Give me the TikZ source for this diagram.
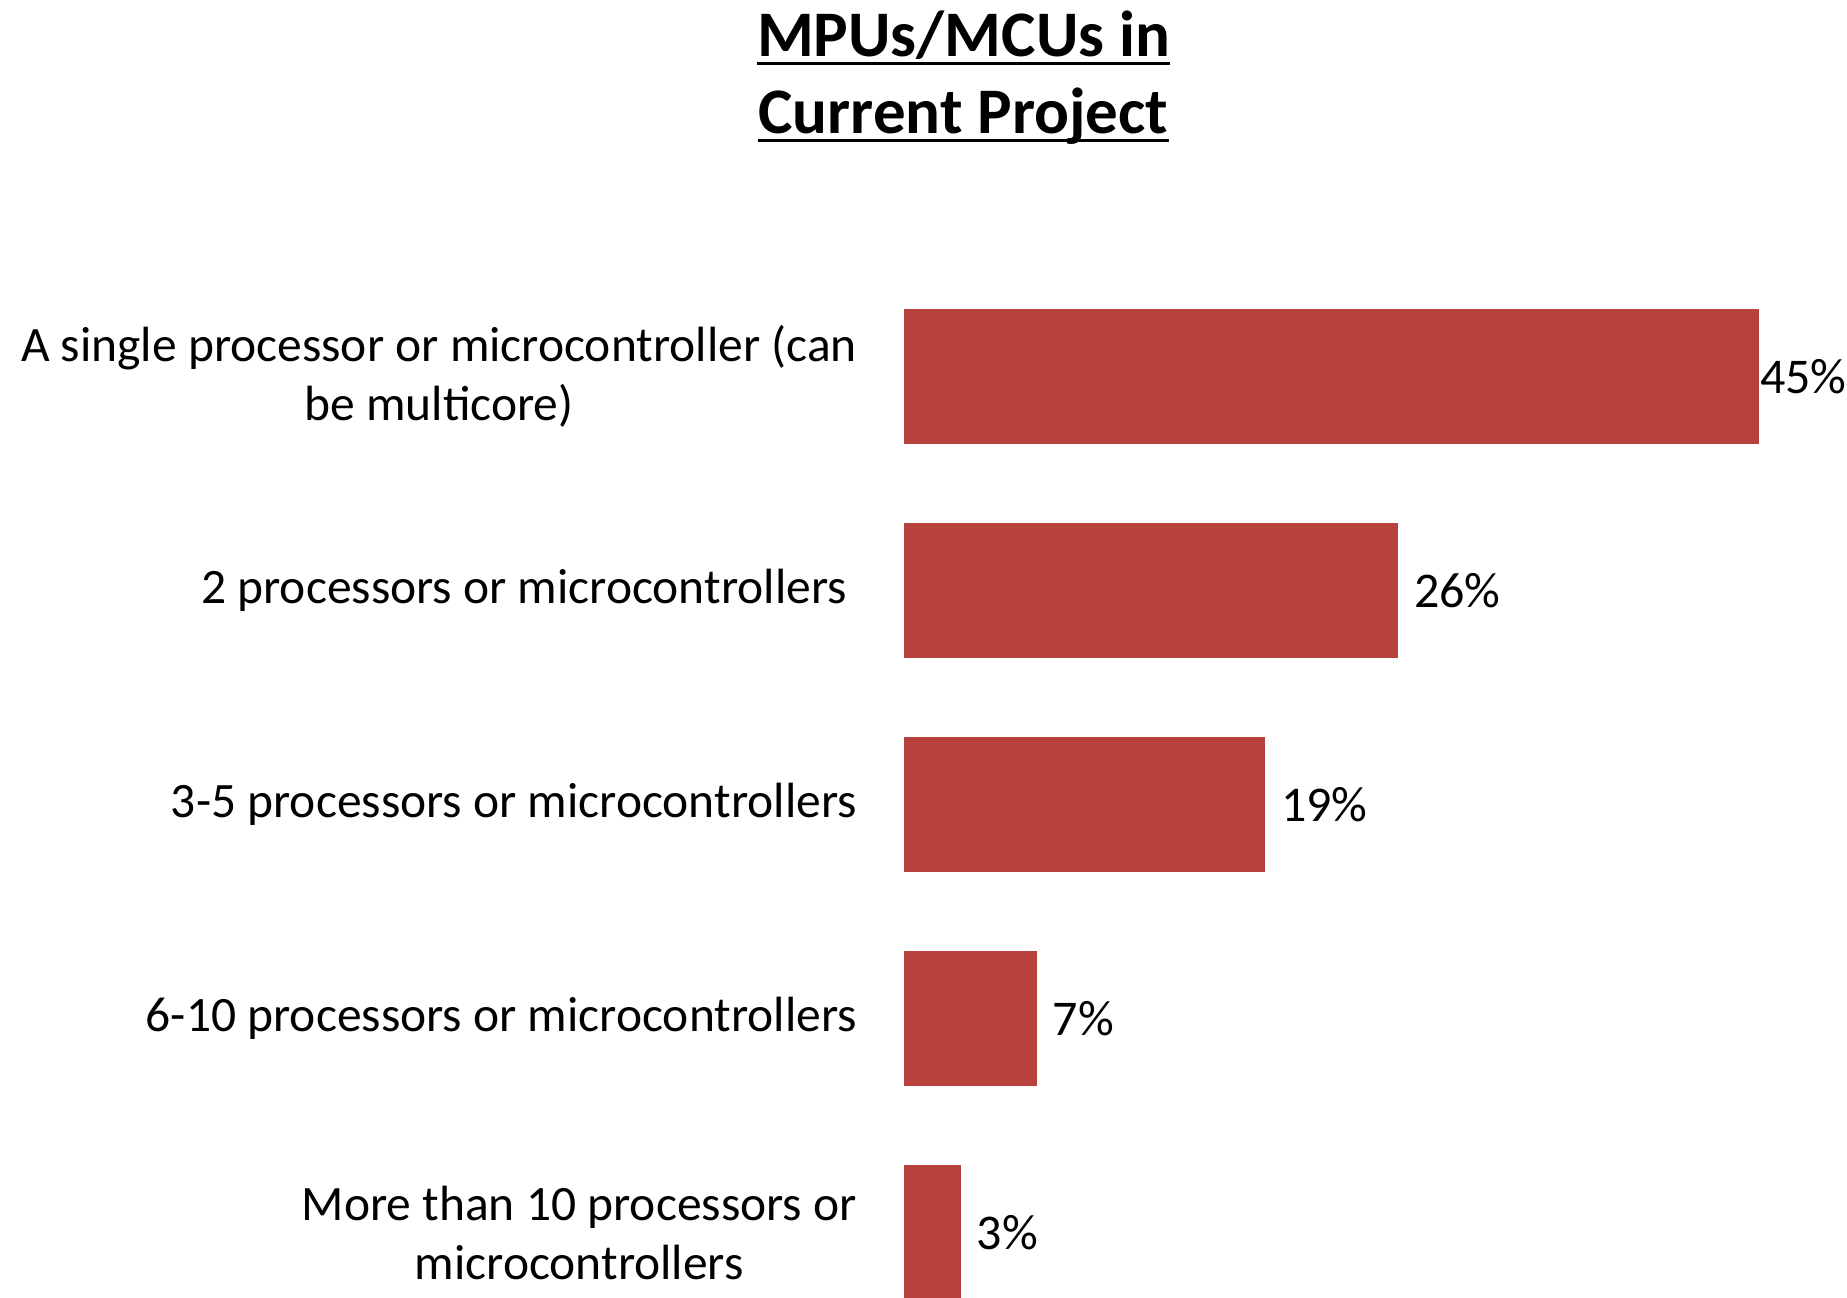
\documentclass[tikz,border=0pt]{standalone}
\usepackage{fontspec}
\setmainfont{Carlito}
\definecolor{barred}{RGB}{183,65,61}
\tikzset{
  bar/.style={fill=barred, draw=none},
  catlabel/.style={anchor=east, align=center, inner sep=0pt,
    font=\fontsize{49.5}{59}\selectfont},
  pctlabel/.style={anchor=west, inner sep=0pt,
    font=\fontsize{50}{58}\selectfont},
  titleline/.style={anchor=base, inner sep=0pt,
    font=\bfseries\fontsize{65}{76}\selectfont},
  uline/.style={line width=3pt}
}
\begin{document}
\begin{tikzpicture}[x=1pt, y=-1pt]
  \useasboundingbox (0,0) rectangle (1847,1298);

  % title, underlined line by line
  \node[titleline] (t1) at (963.5,57) {MPUs/MCUs in};
  \node[titleline] (t2) at (963.5,133) {Current Project};
  \draw[uline] ([yshift=-7pt]t1.base west) -- ([yshift=-7pt]t1.base east);
  \draw[uline] ([yshift=-7pt]t2.base west) -- ([yshift=-7pt]t2.base east);

  % bars: 19.02 px per percent, starting at x = 903.5
  \fill[bar] (903.5,309) rectangle (1759,444);
  \fill[bar] (903.5,523) rectangle (1398,658);
  \fill[bar] (903.5,737) rectangle (1265,872);
  \fill[bar] (903.5,951) rectangle (1036.5,1086);
  \clip (0,0) rectangle (1847,1298);
  \fill[bar] (903.5,1165) rectangle (960.5,1310);

  % category labels
  \node[catlabel] (c1) at (857,376.5) {A single processor or microcontroller (can\\be multicore)};
  \node[catlabel] (c2) at (847,590.5) {2 processors or microcontrollers};
  \node[catlabel] (c3) at (857,804.5) {3-5 processors or microcontrollers};
  \node[catlabel] (c4) at (857,1018.5) {6-10 processors or microcontrollers};
  \node[catlabel] (c5) at (857,1232.5) {More than 10 processors or\\microcontrollers};

  % value labels
  \node[pctlabel] (v1) at (1760,376.5) {45\%};
  \node[pctlabel] (v2) at (1414,590.5) {26\%};
  \node[pctlabel] (v3) at (1281,804.5) {19\%};
  \node[pctlabel] (v4) at (1052.5,1018.5) {7\%};
  \node[pctlabel] (v5) at (976.5,1232.5) {3\%};
\end{tikzpicture}
\end{document}
